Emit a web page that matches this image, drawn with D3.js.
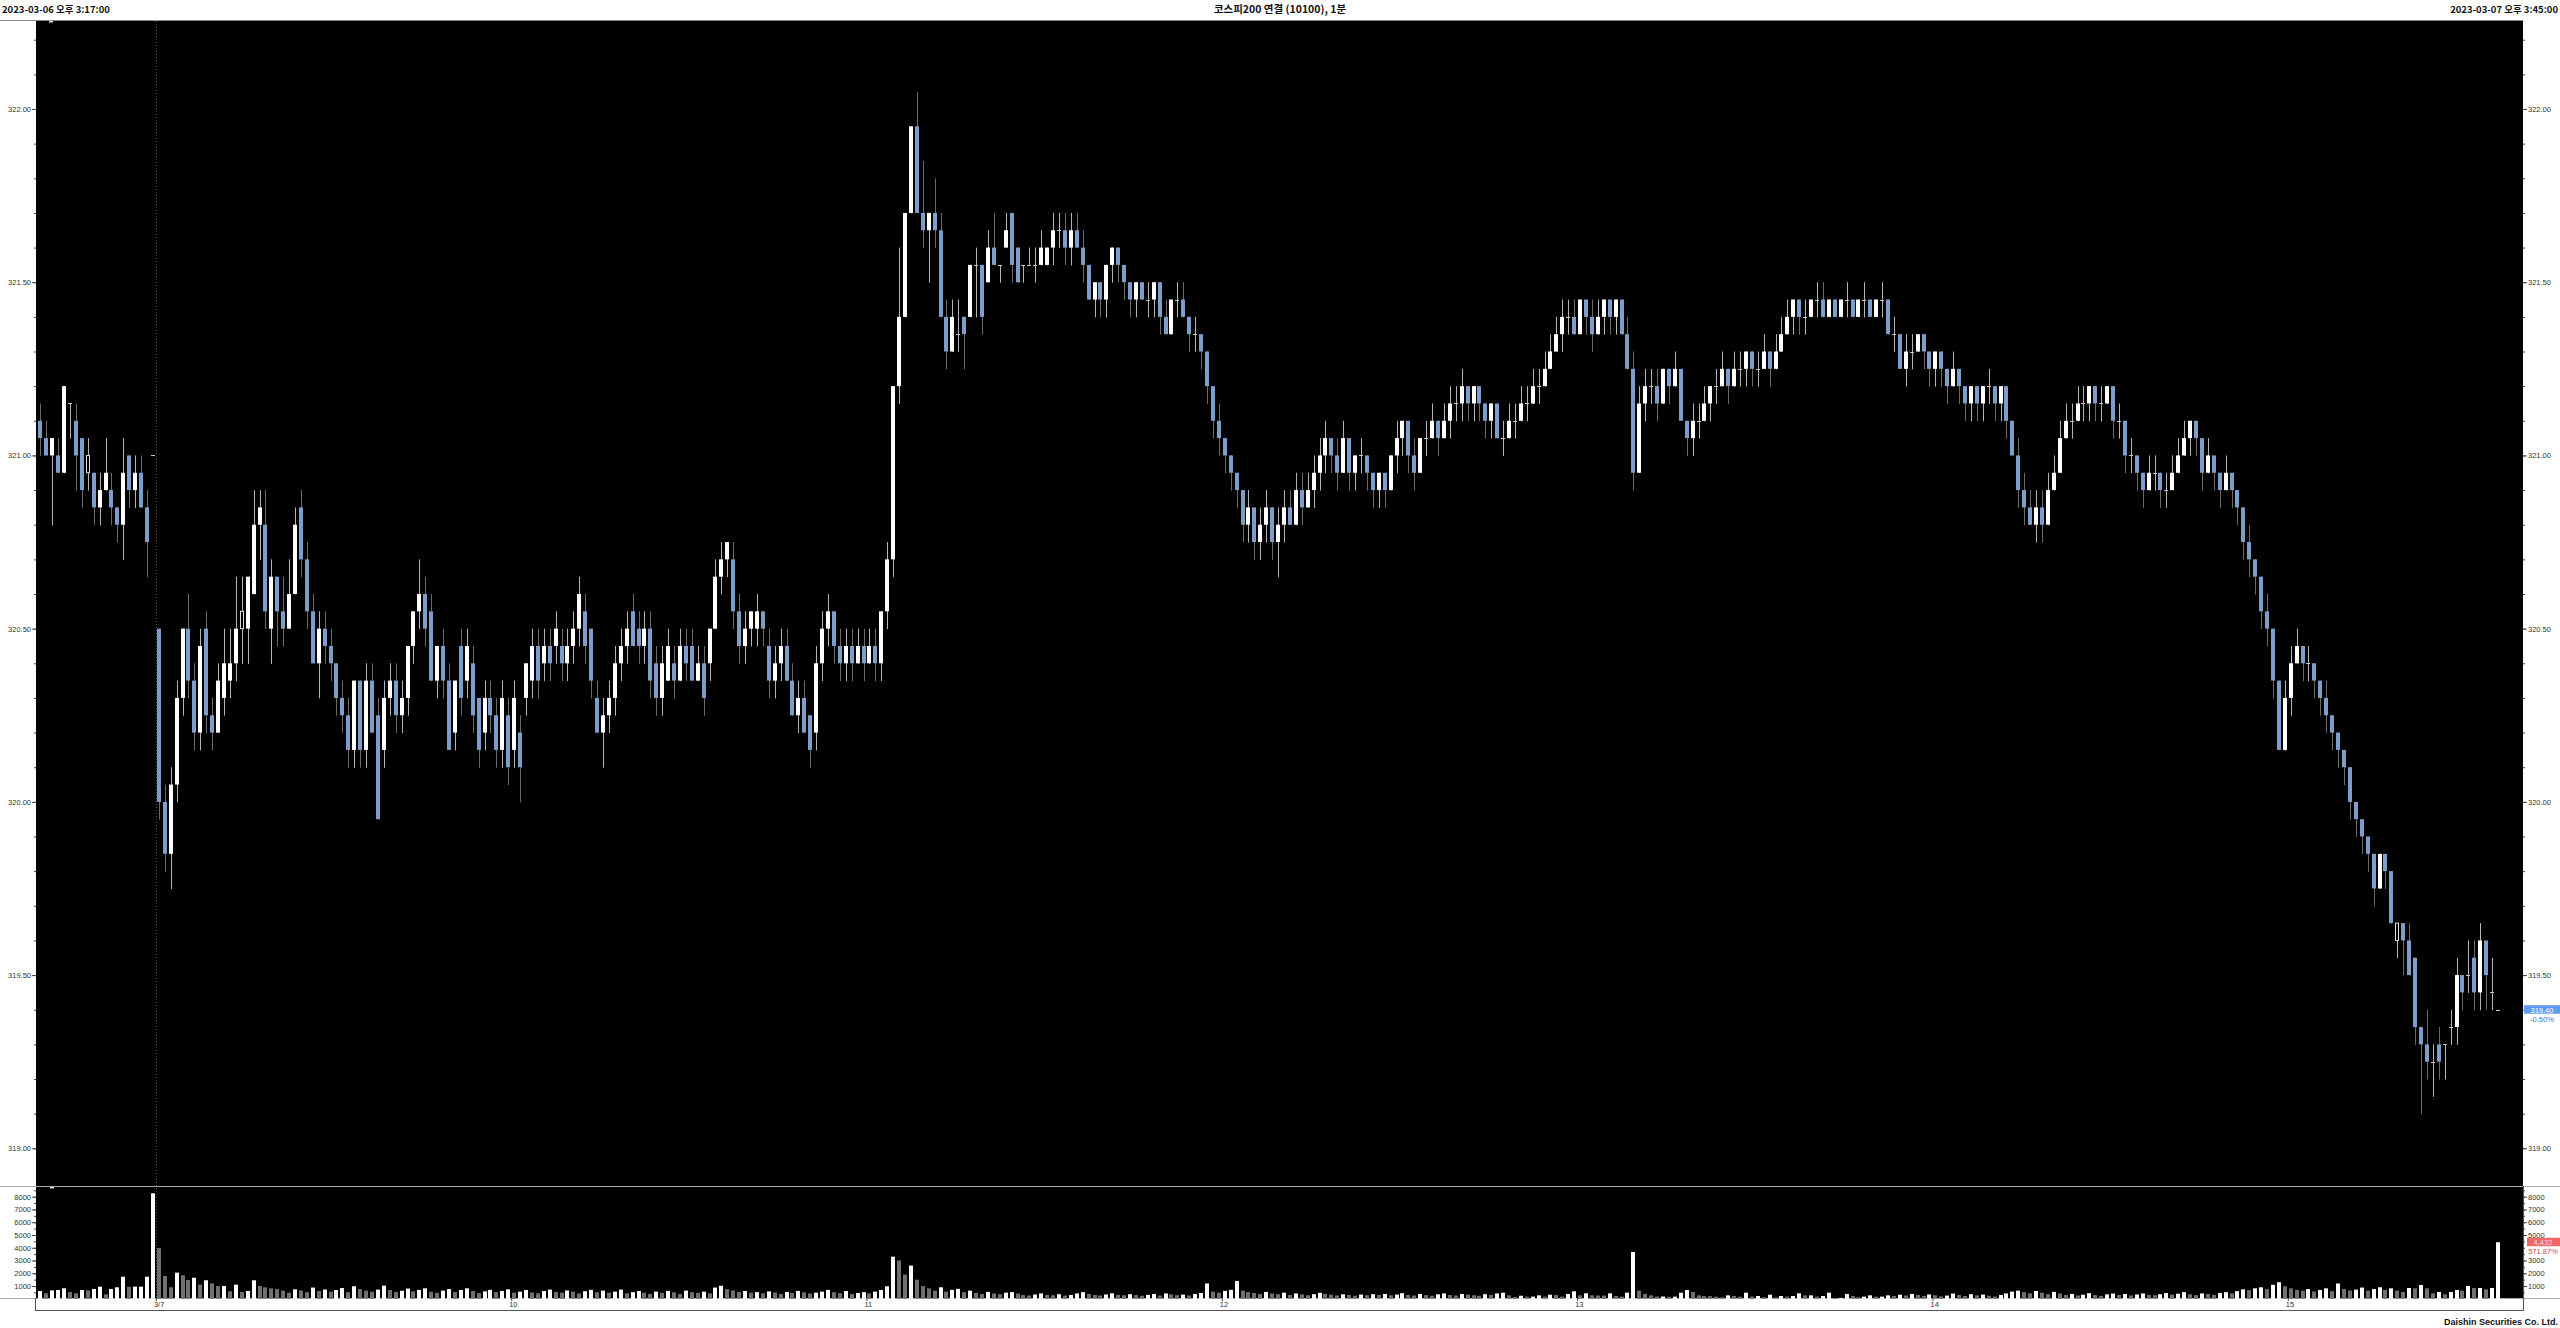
<!DOCTYPE html>
<html><head><meta charset="utf-8">
<script src="https://cdn.jsdelivr.net/npm/d3@7"></script>
<style>body{margin:0;background:#fff;overflow:hidden}svg{display:block}</style>
</head><body>
<script>
// ================= DATA =================
const headerLeft = "2023-03-06 오후 3:17:00";
const headerTitle = "코스피200 연결 (10100), 1분";
const headerRight = "2023-03-07 오후 3:45:00";
const footerText = "Daishin Securities Co. Ltd.";
const timeTickLabels = ["3/7","10","11","12","13","14","15"];
const timeTickBars = [20,80,140,200,260,320,380];   // first bar of each label's period
const priceTicks = [319.0,319.5,320.0,320.5,321.0,321.5,322.0];
const volTicks = [1000,2000,3000,4000,5000,6000,7000,8000];
const lastPriceChange = "-0.50%";
const lastVolumeChange = "571.87%";
const hollowBars = [8,34,398];
// 1-minute bars: 0-19 = 3/6 15:17.., 20-414 = 3/7 09:00-15:34, 415 = 15:45
const opens = [
321.10,321.05,321.00,321.00,320.95,321.15,321.10,321.05,320.95,320.95,
320.85,320.90,320.90,320.85,320.80,321.00,320.90,320.95,320.85,321.00,
320.50,320.00,319.85,320.05,320.30,320.50,320.35,320.20,320.50,320.25,
320.20,320.30,320.35,320.40,320.50,320.50,320.60,320.80,320.80,320.50,
320.65,320.55,320.50,320.60,320.85,320.70,320.55,320.40,320.50,320.45,
320.40,320.30,320.25,320.15,320.35,320.15,320.35,320.25,320.15,320.30,
320.35,320.25,320.30,320.45,320.55,320.60,320.55,320.35,320.45,320.35,
320.20,320.45,320.35,320.40,320.30,320.20,320.30,320.25,320.15,320.25,
320.15,320.20,320.30,320.35,320.45,320.40,320.45,320.45,320.45,320.40,
320.45,320.50,320.55,320.50,320.30,320.20,320.25,320.30,320.40,320.45,
320.55,320.50,320.45,320.50,320.40,320.30,320.35,320.40,320.35,320.45,
320.45,320.35,320.40,320.40,320.50,320.65,320.70,320.70,320.55,320.45,
320.50,320.50,320.55,320.45,320.35,320.40,320.45,320.35,320.25,320.30,
320.25,320.20,320.40,320.50,320.55,320.45,320.40,320.45,320.40,320.45,
320.40,320.45,320.40,320.55,320.70,321.20,321.40,321.70,321.95,321.70,
321.65,321.70,321.65,321.40,321.30,321.35,321.40,321.40,321.55,321.55,
321.50,321.60,321.55,321.60,321.70,321.60,321.55,321.55,321.55,321.55,
321.55,321.60,321.65,321.65,321.60,321.65,321.60,321.55,321.45,321.50,
321.45,321.55,321.60,321.55,321.50,321.45,321.50,321.45,321.45,321.50,
321.40,321.35,321.45,321.45,321.40,321.35,321.35,321.30,321.20,321.10,
321.05,321.00,320.95,320.90,320.80,320.85,320.75,320.80,320.85,320.75,
320.80,320.85,320.80,320.90,320.85,320.90,320.95,321.00,321.05,321.00,
320.95,321.05,320.95,321.00,321.00,320.95,320.90,320.95,320.90,321.00,
321.05,321.10,321.00,320.95,321.05,321.05,321.10,321.05,321.10,321.15,
321.15,321.20,321.15,321.20,321.15,321.10,321.15,321.05,321.05,321.10,
321.10,321.15,321.15,321.20,321.20,321.25,321.30,321.35,321.40,321.40,
321.35,321.45,321.40,321.35,321.40,321.45,321.40,321.45,321.35,321.25,
320.95,321.15,321.20,321.20,321.15,321.25,321.20,321.25,321.10,321.05,
321.10,321.10,321.15,321.20,321.20,321.25,321.20,321.25,321.25,321.30,
321.25,321.25,321.30,321.25,321.30,321.35,321.40,321.45,321.40,321.40,
321.45,321.45,321.40,321.45,321.40,321.45,321.45,321.40,321.45,321.45,
321.40,321.45,321.45,321.35,321.35,321.25,321.30,321.30,321.35,321.30,
321.25,321.30,321.25,321.20,321.25,321.20,321.15,321.20,321.15,321.20,
321.20,321.15,321.20,321.10,321.00,320.90,320.85,320.80,320.85,320.80,
320.90,320.95,321.05,321.10,321.10,321.15,321.15,321.20,321.15,321.15,
321.20,321.10,321.10,321.00,321.00,320.95,320.90,320.95,320.95,320.90,
320.90,320.95,321.00,321.05,321.10,321.05,320.95,321.00,320.95,320.90,
320.95,320.90,320.85,320.75,320.70,320.65,320.55,320.50,320.35,320.15,
320.30,320.40,320.45,320.40,320.40,320.35,320.30,320.25,320.20,320.15,
320.10,320.00,319.95,319.90,319.85,319.75,319.85,319.80,319.60,319.65,
319.60,319.55,319.35,319.30,319.25,319.30,319.30,319.35,319.35,319.50,
319.50,319.55,319.45,319.60,319.45,319.40];
const highs = [
321.15,321.10,321.05,321.05,321.20,321.15,321.15,321.05,321.05,320.95,
320.95,321.05,320.95,320.85,321.05,321.00,321.00,321.00,320.90,321.00,
320.50,320.05,320.10,320.35,320.50,320.60,320.40,320.50,320.55,320.30,
320.40,320.50,320.50,320.65,320.65,320.65,320.90,320.90,320.90,320.70,
320.65,320.65,320.70,320.85,320.90,320.75,320.60,320.55,320.55,320.50,
320.40,320.35,320.30,320.35,320.35,320.40,320.40,320.30,320.35,320.40,
320.40,320.35,320.45,320.55,320.70,320.65,320.60,320.45,320.50,320.40,
320.35,320.50,320.50,320.45,320.30,320.35,320.35,320.30,320.35,320.30,
320.35,320.25,320.40,320.50,320.50,320.50,320.50,320.55,320.50,320.50,
320.55,320.65,320.60,320.50,320.35,320.30,320.35,320.45,320.50,320.55,
320.60,320.55,320.55,320.55,320.45,320.45,320.50,320.45,320.50,320.50,
320.50,320.45,320.45,320.50,320.70,320.75,320.75,320.75,320.60,320.55,
320.55,320.60,320.55,320.50,320.45,320.50,320.50,320.40,320.35,320.35,
320.25,320.45,320.55,320.60,320.55,320.50,320.50,320.50,320.50,320.50,
320.50,320.50,320.55,320.75,321.20,321.60,321.70,321.95,322.05,321.85,
321.70,321.80,321.70,321.45,321.45,321.45,321.40,321.55,321.60,321.55,
321.65,321.70,321.55,321.70,321.70,321.60,321.55,321.60,321.60,321.65,
321.60,321.70,321.70,321.70,321.70,321.70,321.65,321.55,321.50,321.50,
321.55,321.60,321.60,321.55,321.50,321.50,321.50,321.50,321.50,321.50,
321.45,321.45,321.50,321.50,321.40,321.40,321.35,321.30,321.20,321.15,
321.05,321.00,320.95,320.90,320.90,320.85,320.85,320.90,320.85,320.85,
320.90,320.90,320.95,320.95,320.95,321.00,321.05,321.10,321.05,321.05,
321.10,321.05,321.00,321.05,321.00,320.95,320.95,320.95,321.00,321.10,
321.10,321.10,321.05,321.05,321.10,321.15,321.10,321.15,321.20,321.20,
321.25,321.20,321.20,321.20,321.15,321.15,321.15,321.10,321.15,321.15,
321.20,321.20,321.25,321.25,321.30,321.35,321.40,321.45,321.45,321.45,
321.45,321.45,321.45,321.45,321.45,321.45,321.45,321.45,321.40,321.30,
321.20,321.25,321.25,321.25,321.25,321.25,321.30,321.25,321.10,321.15,
321.15,321.20,321.20,321.25,321.30,321.25,321.30,321.30,321.30,321.30,
321.30,321.35,321.30,321.35,321.40,321.45,321.45,321.45,321.45,321.45,
321.50,321.50,321.45,321.45,321.45,321.50,321.45,321.45,321.50,321.45,
321.45,321.50,321.45,321.40,321.35,321.35,321.35,321.35,321.35,321.30,
321.30,321.30,321.25,321.30,321.25,321.20,321.20,321.20,321.20,321.25,
321.20,321.20,321.20,321.10,321.05,320.95,320.90,320.90,320.90,320.95,
321.00,321.10,321.15,321.15,321.20,321.20,321.20,321.20,321.20,321.20,
321.20,321.15,321.10,321.05,321.00,320.95,321.00,321.00,320.95,320.95,
321.00,321.05,321.10,321.10,321.10,321.05,321.05,321.00,320.95,321.00,
320.95,320.90,320.85,320.80,320.70,320.65,320.60,320.50,320.35,320.35,
320.45,320.50,320.45,320.45,320.40,320.35,320.35,320.25,320.20,320.15,
320.10,320.00,319.95,319.90,319.85,319.85,319.85,319.80,319.65,319.65,
319.65,319.55,319.35,319.40,319.30,319.35,319.30,319.40,319.55,319.50,
319.60,319.60,319.65,319.60,319.55,319.40];
const lows = [
321.00,321.00,320.80,320.95,320.95,321.05,320.90,320.85,320.90,320.80,
320.80,320.90,320.80,320.75,320.70,320.85,320.85,320.85,320.65,321.00,
319.95,319.80,319.75,320.00,320.25,320.30,320.15,320.15,320.20,320.15,
320.20,320.25,320.30,320.35,320.40,320.40,320.60,320.70,320.50,320.40,
320.45,320.45,320.50,320.60,320.65,320.50,320.40,320.30,320.40,320.35,
320.25,320.20,320.10,320.10,320.10,320.10,320.20,319.95,320.10,320.25,
320.20,320.20,320.25,320.40,320.50,320.45,320.35,320.30,320.30,320.15,
320.15,320.25,320.30,320.20,320.10,320.15,320.20,320.10,320.10,320.05,
320.10,320.00,320.25,320.30,320.30,320.35,320.35,320.40,320.35,320.35,
320.40,320.45,320.40,320.30,320.20,320.10,320.20,320.25,320.35,320.40,
320.45,320.40,320.40,320.30,320.25,320.25,320.35,320.30,320.35,320.35,
320.35,320.35,320.25,320.35,320.50,320.60,320.65,320.50,320.40,320.40,
320.45,320.45,320.45,320.30,320.30,320.35,320.35,320.25,320.20,320.20,
320.10,320.15,320.35,320.45,320.40,320.35,320.35,320.35,320.40,320.35,
320.40,320.35,320.35,320.50,320.65,321.15,321.40,321.70,321.70,321.60,
321.50,321.60,321.40,321.25,321.30,321.30,321.25,321.40,321.40,321.35,
321.50,321.55,321.50,321.60,321.50,321.50,321.50,321.55,321.50,321.55,
321.55,321.55,321.60,321.55,321.55,321.60,321.50,321.45,321.40,321.40,
321.40,321.50,321.50,321.45,321.40,321.40,321.45,321.40,321.40,321.35,
321.35,321.35,321.40,321.40,321.30,321.30,321.25,321.15,321.05,321.00,
320.95,320.90,320.85,320.75,320.75,320.70,320.70,320.75,320.70,320.65,
320.75,320.80,320.80,320.80,320.85,320.85,320.90,320.95,320.95,320.90,
320.95,320.90,320.90,320.95,320.90,320.85,320.85,320.85,320.90,320.95,
321.00,320.95,320.90,320.95,321.00,321.05,321.00,321.05,321.05,321.10,
321.10,321.10,321.10,321.10,321.05,321.05,321.05,321.00,321.05,321.05,
321.10,321.10,321.15,321.15,321.20,321.25,321.30,321.30,321.35,321.35,
321.35,321.35,321.30,321.35,321.35,321.35,321.35,321.35,321.25,320.90,
320.95,321.10,321.15,321.10,321.15,321.15,321.20,321.10,321.00,321.00,
321.05,321.10,321.10,321.15,321.20,321.15,321.20,321.20,321.20,321.20,
321.20,321.25,321.20,321.25,321.30,321.35,321.35,321.35,321.35,321.40,
321.40,321.40,321.40,321.40,321.40,321.40,321.40,321.40,321.40,321.40,
321.40,321.40,321.35,321.30,321.25,321.20,321.25,321.30,321.25,321.20,
321.20,321.20,321.15,321.20,321.15,321.10,321.10,321.10,321.10,321.15,
321.10,321.10,321.05,321.00,320.85,320.80,320.80,320.75,320.75,320.80,
320.90,320.95,321.05,321.05,321.10,321.10,321.10,321.10,321.10,321.15,
321.05,321.05,320.95,320.95,320.90,320.85,320.90,320.90,320.85,320.85,
320.90,320.95,321.00,321.00,321.00,320.90,320.95,320.90,320.85,320.90,
320.85,320.80,320.70,320.65,320.60,320.50,320.45,320.30,320.15,320.15,
320.25,320.40,320.35,320.35,320.30,320.25,320.20,320.15,320.10,320.05,
319.95,319.90,319.85,319.80,319.70,319.75,319.75,319.65,319.55,319.50,
319.50,319.30,319.10,319.20,319.15,319.20,319.20,319.30,319.30,319.40,
319.45,319.40,319.40,319.40,319.40,319.40];
const closes = [
321.05,321.00,321.05,320.95,321.20,321.15,321.00,320.90,321.00,320.85,
320.90,320.95,320.85,320.80,320.95,320.90,320.95,320.85,320.75,321.00,
320.00,319.85,320.05,320.30,320.50,320.35,320.20,320.45,320.25,320.20,
320.35,320.40,320.40,320.50,320.55,320.65,320.80,320.85,320.55,320.65,
320.55,320.50,320.60,320.80,320.70,320.55,320.40,320.50,320.45,320.40,
320.30,320.25,320.15,320.35,320.15,320.35,320.20,319.95,320.30,320.35,
320.25,320.30,320.45,320.55,320.60,320.50,320.35,320.45,320.35,320.15,
320.35,320.30,320.45,320.25,320.15,320.30,320.25,320.15,320.30,320.10,
320.30,320.10,320.40,320.45,320.35,320.45,320.40,320.50,320.40,320.45,
320.50,320.60,320.45,320.35,320.20,320.25,320.30,320.40,320.45,320.50,
320.45,320.45,320.50,320.35,320.30,320.40,320.45,320.35,320.45,320.40,
320.35,320.40,320.30,320.50,320.65,320.70,320.75,320.55,320.45,320.50,
320.55,320.55,320.50,320.35,320.40,320.45,320.35,320.25,320.30,320.20,
320.15,320.40,320.50,320.55,320.45,320.40,320.45,320.40,320.45,320.40,
320.45,320.40,320.55,320.70,321.20,321.40,321.70,321.95,321.70,321.65,
321.70,321.65,321.40,321.30,321.40,321.35,321.35,321.55,321.55,321.40,
321.60,321.55,321.55,321.65,321.55,321.50,321.55,321.55,321.55,321.60,
321.60,321.65,321.65,321.60,321.65,321.60,321.55,321.45,321.50,321.45,
321.55,321.60,321.55,321.50,321.45,321.50,321.45,321.45,321.50,321.40,
321.35,321.45,321.45,321.40,321.35,321.35,321.30,321.20,321.10,321.05,
321.00,320.95,320.90,320.80,320.85,320.75,320.80,320.85,320.75,320.80,
320.85,320.80,320.90,320.85,320.90,320.95,321.00,321.05,321.00,320.95,
321.05,320.95,321.00,321.00,320.95,320.90,320.95,320.90,321.00,321.05,
321.10,321.00,320.95,321.05,321.05,321.10,321.05,321.10,321.15,321.15,
321.20,321.15,321.20,321.15,321.10,321.15,321.05,321.05,321.10,321.10,
321.15,321.15,321.20,321.20,321.25,321.30,321.35,321.40,321.40,321.35,
321.45,321.40,321.35,321.40,321.45,321.40,321.45,321.35,321.25,320.95,
321.15,321.20,321.20,321.15,321.25,321.20,321.25,321.10,321.05,321.10,
321.10,321.15,321.20,321.20,321.25,321.20,321.25,321.25,321.30,321.25,
321.25,321.30,321.25,321.30,321.35,321.40,321.45,321.40,321.40,321.45,
321.45,321.40,321.45,321.40,321.45,321.45,321.40,321.45,321.45,321.40,
321.45,321.45,321.35,321.35,321.25,321.30,321.30,321.35,321.30,321.25,
321.30,321.25,321.20,321.25,321.20,321.15,321.20,321.15,321.20,321.20,
321.15,321.20,321.10,321.00,320.90,320.85,320.80,320.85,320.80,320.90,
320.95,321.05,321.10,321.10,321.15,321.15,321.20,321.15,321.15,321.20,
321.10,321.10,321.00,321.00,320.95,320.90,320.95,320.95,320.90,320.90,
320.95,321.00,321.05,321.10,321.05,320.95,321.00,320.95,320.90,320.95,
320.90,320.85,320.75,320.70,320.65,320.55,320.50,320.35,320.15,320.30,
320.40,320.45,320.40,320.40,320.35,320.30,320.25,320.20,320.15,320.10,
320.00,319.95,319.90,319.85,319.75,319.85,319.80,319.65,319.65,319.60,
319.50,319.35,319.30,319.25,319.25,319.25,319.30,319.35,319.50,319.45,
319.50,319.45,319.60,319.50,319.45,319.40];
const volumes = [
610,430,660,690,820,530,430,690,660,770,950,350,770,900,1730,940,950,950,1730,8270,
3980,1790,900,2050,1840,1470,1650,1110,1450,1210,1000,1000,590,1110,530,610,1450,1000,900,820,770,640,480,740,
650,520,880,610,730,560,690,840,520,980,760,640,560,720,1030,690,540,630,800,580,
700,820,560,470,640,760,530,690,820,610,450,580,700,520,620,740,480,560,690,500,
430,610,720,540,480,650,560,420,590,700,510,640,480,560,720,430,520,610,480,390,
560,470,620,510,380,640,520,470,560,430,880,1020,760,650,540,610,470,520,430,580,
490,380,540,460,620,510,420,480,560,700,520,440,610,380,460,520,430,560,690,980,
3300,3000,1900,2600,1500,1000,820,640,900,560,700,780,520,640,460,380,540,420,360,480,
520,410,300,260,340,420,310,280,360,250,300,420,520,380,300,260,340,430,310,280,
360,290,240,310,380,260,420,350,290,330,260,380,450,1200,560,480,620,700,1400,640,
520,460,380,540,420,360,480,300,420,350,280,360,470,390,320,260,350,300,240,330,
280,360,310,380,270,330,440,300,260,380,290,240,350,420,300,260,380,330,280,
240,360,300,420,
480,270,140,240,170,170,270,170,320,300,
170,380,590,270,430,270,260,250,430,220,
170,480,3670,640,380,270,170,180,160,170,
480,690,530,270,220,210,170,120,270,220,
170,480,170,220,120,320,120,220,170,220,
430,270,270,170,220,480,70,70,380,220,
120,170,270,170,170,270,220,320,
260,380,300,220,340,280,190,250,410,300,220,360,270,330,240,180,300,420,560,640,
520,430,610,480,360,540,420,300,380,260,320,440,290,230,350,410,300,380,260,340,
420,310,280,360,450,330,400,520,360,290,420,380,310,460,520,430,600,740,680,820,
900,760,1100,1300,980,820,700,640,760,580,690,820,600,1200,780,650,720,880,640,760,
900,700,820,640,
530,850,820,1080,820,430,530,350,530,690,640,1000,850,850,740,850,4432];

// ================= LAYOUT =================
const W=2560,H=1328;
const plotL=36, plotR=2523, mainT=21, mainB=1186, volT=1187, volB=1298;
const FONT="'Liberation Sans',Arial,sans-serif";
const svg=d3.select("body").append("svg").attr("width",W).attr("height",H).style("font-family",FONT);
svg.append("rect").attr("width",W).attr("height",H).attr("fill","#fff");

const n=closes.length;
const x=d3.scaleLinear().domain([0,n-1]).range([40.4,2498]);
const y=d3.scaleLinear().domain([319,322]).range([1148.3,109]);
const yv=d3.scaleLinear().domain([0,8000]).range([1298.8,1196.7]);

// header
const hdr=svg.append("g").style("font-family","'Noto Sans CJK KR',sans-serif").style("font-weight","bold").attr("fill","#111");
hdr.append("text").attr("x",2).attr("y",13).style("font-size","9.5px").text(headerLeft);
hdr.append("text").attr("x",1280).attr("y",13).attr("text-anchor","middle").style("font-size","10.5px").text(headerTitle);
hdr.append("text").attr("x",2558).attr("y",13).attr("text-anchor","end").style("font-size","9.5px").text(headerRight);
svg.append("line").attr("x1",0).attr("x2",plotR).attr("y1",20.5).attr("y2",20.5).attr("stroke","#888");

// panes
svg.append("rect").attr("x",plotL).attr("y",mainT).attr("width",plotR-plotL).attr("height",mainB-mainT).attr("fill","#000");
svg.append("rect").attr("x",plotL).attr("y",volT).attr("width",plotR-plotL).attr("height",volB-volT).attr("fill","#000");
svg.append("line").attr("x1",0).attr("x2",W).attr("y1",1186.5).attr("y2",1186.5).attr("stroke","#aaa");
svg.append("line").attr("x1",0).attr("x2",W).attr("y1",1298.5).attr("y2",1298.5).attr("stroke","#aaa");
svg.append("line").attr("x1",plotL).attr("x2",plotR).attr("y1",1310.5).attr("y2",1310.5).attr("stroke","#555");
svg.append("line").attr("x1",plotL-0.5).attr("x2",plotL-0.5).attr("y1",1298).attr("y2",1311).attr("stroke","#555");
svg.append("line").attr("x1",plotR+0.5).attr("x2",plotR+0.5).attr("y1",1186).attr("y2",1311).attr("stroke","#555");

// date separator (between last 3/6 bar and first 3/7 bar)
const sepX=Math.round(x(timeTickBars[0]-0.5))+0.5;
svg.append("line").attr("x1",sepX).attr("x2",sepX).attr("y1",mainT).attr("y2",volB)
  .attr("stroke","#555").attr("stroke-dasharray","1,2");

// axes
function styleAxis(g){g.select(".domain").remove();g.selectAll("line").attr("stroke","#444");
  g.selectAll("text").attr("fill","#333").style("font-size","7.5px").style("font-family",FONT);}
const minorP=d3.range(3190,3223,1).map(v=>v/10);
const minorV=d3.range(500,8800,500);
svg.append("g").attr("transform",`translate(${plotL},0)`).call(d3.axisLeft(y).tickValues(minorP).tickSize(2).tickFormat("")).call(styleAxis);
svg.append("g").attr("transform",`translate(${plotR},0)`).call(d3.axisRight(y).tickValues(minorP).tickSize(2).tickFormat("")).call(styleAxis);
svg.append("g").attr("transform",`translate(${plotL},0)`).call(d3.axisLeft(y).tickValues(priceTicks).tickSize(4).tickPadding(1).tickFormat(d3.format(".2f"))).call(styleAxis);
svg.append("g").attr("transform",`translate(${plotR},0)`).call(d3.axisRight(y).tickValues(priceTicks).tickSize(4).tickPadding(1).tickFormat(d3.format(".2f"))).call(styleAxis);
svg.append("g").attr("transform",`translate(${plotL},0)`).call(d3.axisLeft(yv).tickValues(minorV).tickSize(2).tickFormat("")).call(styleAxis);
svg.append("g").attr("transform",`translate(${plotR},0)`).call(d3.axisRight(yv).tickValues(minorV).tickSize(2).tickFormat("")).call(styleAxis);
const lastP=closes[n-1], lastV=volumes[n-1];
svg.append("g").attr("transform",`translate(${plotL},0)`).call(d3.axisLeft(yv).tickValues(volTicks).tickSize(4).tickPadding(1).tickFormat(d3.format("d"))).call(styleAxis);
// right volume labels: the ones hidden under the last-volume tag are left out, as in the original
const rightVolTicks=volTicks.filter(v=>Math.abs(yv(v)-(yv(lastV)+8))>8);
svg.append("g").attr("transform",`translate(${plotR},0)`).call(d3.axisRight(yv).tickValues(rightVolTicks).tickSize(4).tickPadding(1).tickFormat(d3.format("d"))).call(styleAxis);
const xa=svg.append("g").attr("transform",`translate(0,${volB})`)
  .call(d3.axisBottom(x).tickValues(timeTickBars.map(b=>b-0.5)).tickSize(3).tickPadding(1).tickFormat((d,i)=>timeTickLabels[i]));
xa.call(styleAxis);
xa.selectAll("text").attr("text-anchor","start").attr("dx",-2.5);

// candles
const UP="#ffffff", DN="#7d9dca", DOJI="#c8c8c8";
const cg=svg.append("g");
const idx=d3.range(n);
const cx=i=>Math.round(x(i));
cg.selectAll("line.wick").data(idx).join("line").attr("class","wick")
  .attr("x1",i=>cx(i)+0.5).attr("x2",i=>cx(i)+0.5)
  .attr("y1",i=>y(highs[i])).attr("y2",i=>y(lows[i])+0.5)
  .attr("stroke",i=>closes[i]>opens[i]?"#b4b4b4":(closes[i]<opens[i]?"#6a6a6a":"#b4b4b4"));
cg.selectAll("rect.body").data(idx.filter(i=>closes[i]!==opens[i])).join("rect").attr("class","body")
  .attr("x",i=>cx(i)-2+(hollowBars.includes(i)?0.5:0))
  .attr("width",i=>hollowBars.includes(i)?3:4)
  .attr("y",i=>y(Math.max(opens[i],closes[i])))
  .attr("height",i=>Math.max(1,Math.abs(y(opens[i])-y(closes[i]))))
  .attr("fill",i=>hollowBars.includes(i)?"#000":(closes[i]>opens[i]?UP:DN))
  .attr("stroke",i=>hollowBars.includes(i)?"#ddd":"none");
cg.selectAll("line.doji").data(idx.filter(i=>closes[i]===opens[i])).join("line").attr("class","doji")
  .attr("x1",i=>cx(i)-2).attr("x2",i=>cx(i)+2)
  .attr("y1",i=>Math.round(y(closes[i]))+0.5).attr("y2",i=>Math.round(y(closes[i]))+0.5)
  .attr("stroke",DOJI);

// volume (white when volume rises vs previous bar, grey otherwise)
svg.append("g").selectAll("rect").data(idx).join("rect")
  .attr("x",i=>cx(i)-2).attr("width",4)
  .attr("y",i=>yv(volumes[i])).attr("height",i=>yv(0)-yv(volumes[i]))
  .attr("fill",i=>(i===0||volumes[i]>=volumes[i-1])?"#fff":"#707070");

// last-value tags
svg.append("rect").attr("x",2524).attr("y",y(lastP)-4.5).attr("width",36).attr("height",8.5).attr("fill","#5e9cf2");
svg.append("text").attr("x",2542).attr("y",y(lastP)+2.8).attr("text-anchor","middle").attr("fill","#fff").style("font-size","7.5px").text(d3.format(".2f")(lastP));
svg.append("text").attr("x",2542).attr("y",y(lastP)+12).attr("text-anchor","middle").attr("fill","#3a72e0").style("font-size","7.5px").text(lastPriceChange);
svg.append("rect").attr("x",2527).attr("y",yv(lastV)-4.5).attr("width",33).attr("height",8.5).attr("fill","#f06868");
svg.append("text").attr("x",2543).attr("y",yv(lastV)+2.8).attr("text-anchor","middle").attr("fill","#fde").style("font-size","7.5px").text(d3.format(",")(lastV));
svg.append("text").attr("x",2543).attr("y",yv(lastV)+12).attr("text-anchor","middle").attr("fill","#e04848").style("font-size","7.5px").text(lastVolumeChange);

// small scroll markers
svg.append("rect").attr("x",49).attr("y",21).attr("width",4).attr("height",1.5).attr("fill","#ddd");
svg.append("rect").attr("x",50).attr("y",1187).attr("width",4).attr("height",1.5).attr("fill","#ddd");

// footer
svg.append("text").attr("x",2558).attr("y",1325).attr("text-anchor","end").style("font-weight","bold").style("font-size","9px").attr("fill","#111").text(footerText);
</script>
</body></html>
